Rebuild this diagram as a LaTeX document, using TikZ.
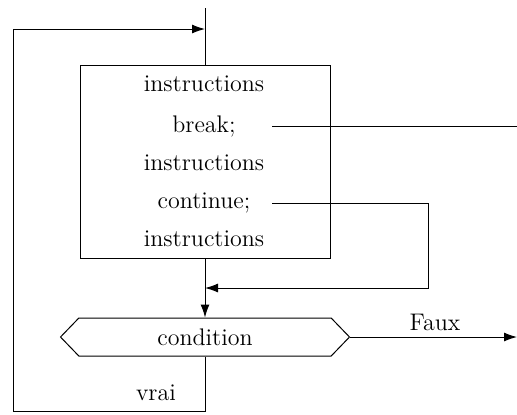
\documentclass[tikz,border=0pt]{standalone}
\usetikzlibrary{arrows.meta,shapes.symbols}
\begin{document}
\begin{tikzpicture}[x=0.5pt,y=-0.5pt,
  lbl/.style={inner sep=0pt,font=\fontsize{12}{14}\selectfont},
  conn/.style={line width=0.5pt},
  arr/.style={conn,-{Latex[length=6.5pt,width=4.5pt]}}]
\useasboundingbox (0,0) rectangle (517,414);
% box
\node[draw,line width=0.5pt,minimum width=125pt,minimum height=96.5pt,inner sep=0pt] (box) at (205,161.5) {};
\node[lbl] (i1) at (204,84) {instructions};
\node[lbl] (brk) at (204,126) {break;};
\node[lbl] (i2) at (204,163) {instructions};
\node[lbl] (cont) at (204,203) {continue;};
\node[lbl] (i3) at (204,239) {instructions};
% condition
\node[signal,signal to=west and east,signal pointer angle=92,draw,line width=0.5pt,
      minimum width=144.5pt,minimum height=19pt,inner sep=0pt,
      font=\fontsize{12}{14}\selectfont] (cond) at (205,337) {condition};
\node[lbl] (faux) at (435,322) {Faux};
\node[lbl] (vrai) at (156,393) {vrai};
% coordinates
\coordinate (top) at (205,8);
\coordinate (join) at (205,29);
\coordinate (bl) at (13,411);
\coordinate (br) at (205,411);
\coordinate (tl) at (13,29);
\coordinate (b0) at (272,126);
\coordinate (b1) at (517,126);
\coordinate (c0) at (272,203);
\coordinate (c1) at (428,203);
\coordinate (c2) at (428,288);
\coordinate (c3) at (205,288);
\coordinate (fend) at (517,337);
% connectors
\draw[conn] (top) -- (box.north);
\draw[conn] (cond.south) -- (br) -- (bl) -- (tl);
\draw[arr] (tl) -- (join);
\draw[conn] (b0) -- (b1);
\draw[arr] (c0) -- (c1) -- (c2) -- (c3);
\draw[arr] (box.south) -- (cond.north);
\draw[arr] (cond.east) -- (fend);
\end{tikzpicture}
\end{document}
